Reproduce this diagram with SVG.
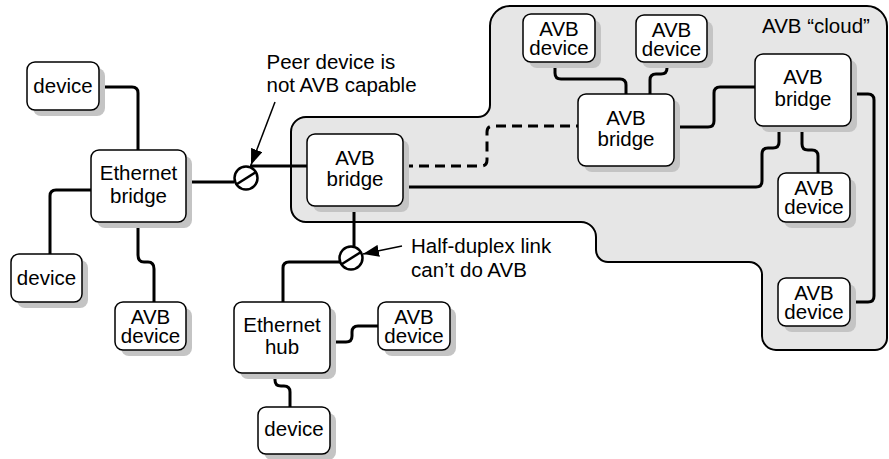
<svg xmlns="http://www.w3.org/2000/svg" width="889" height="459" viewBox="0 0 889 459">
<defs>
<style>
.t{font-family:"Liberation Sans",Arial,Helvetica,sans-serif;font-size:20.5px;fill:#000}
.c{text-anchor:middle}
.box{fill:#fff;stroke:#000;stroke-width:1.5}
.sh{fill:#c4c4c4;stroke:none}
.ln{fill:none;stroke:#000;stroke-width:3}
.dash{stroke-dasharray:10 6}
.cir{fill:#fff;stroke:#000;stroke-width:2.5}
.arr{fill:none;stroke:#000;stroke-width:1.5}
</style>
<marker id="ah" markerWidth="16" markerHeight="12" viewBox="0 0 16 12" refX="16" refY="6" orient="auto" markerUnits="userSpaceOnUse">
<path d="M0,0 L16,6 L0,12 Z" fill="#000"/>
</marker>
</defs>
<rect width="889" height="459" fill="#fff"/>

<g id="cloud">
<path d="M510,6 H867 A20 20 0 0 1 887,26 V338 A12 12 0 0 1 875,350 H776 A14 14 0 0 1 762,336 V276 A13 13 0 0 0 749,262 H608 A12 12 0 0 1 596,250 V237 A15 15 0 0 0 581,222 H306 A15 15 0 0 1 291,207 V132 A15 15 0 0 1 306,117 H478 A12 12 0 0 0 490,105 V26 A20 20 0 0 1 510,6 Z" fill="#e6e6e6" stroke="#000" stroke-width="2"/>
<text class="t" x="762" y="33">AVB “cloud”</text>
</g>

<g id="connectors">
<path class="ln" d="M99,87 H132 Q138,87 138,93 V150"/>
<path class="ln" d="M91,190 H56 Q50,190 50,196 V254"/>
<path class="ln" d="M138,222 V255 Q138,262 144,262 H148 Q154,262 154,269 V302"/>
<path class="ln" d="M186,182 H234"/>
<path class="ln" d="M250,166 H307"/>
<path class="ln" d="M354,206 V246"/>
<path class="ln" d="M341,262 H289 Q283,262 283,268 V302"/>
<path class="ln" d="M330,342 H346 Q352,342 352,336 V332 Q352,326 358,326 H378"/>
<path class="ln" d="M275,373 V380 Q275,386 281,386 H284 Q290,386 290,392 V407"/>
<path class="ln dash" d="M403,166 H481 Q487,166 487,160 V132 Q487,126 493,126 H578"/>
<path class="ln" d="M403,187 H756 Q762,187 762,181 V154 Q762,148 768,148 H773 Q779,148 779,142 V126"/>
<path class="ln" d="M555,62 V73 Q555,79 561,79 H620 Q626,79 626,85 V94"/>
<path class="ln" d="M667,62 V68 Q667,74 661,74 H656 Q650,74 650,80 V94"/>
<path class="ln" d="M674,127 H708 Q714,127 714,121 V93 Q714,87 720,87 H755"/>
<path class="ln" d="M802,126 V144 Q802,150 808,150 H812 Q818,150 818,156 V173"/>
<path class="ln" d="M851,94 H868 Q874,94 874,100 V296 Q874,302 868,302 H851"/>
</g>

<g id="peer-mismatch">
<circle class="cir" cx="246" cy="178" r="11.5"/>
<line x1="237" y1="184" x2="256" y2="172" stroke="#000" stroke-width="2.5"/>
<line class="arr" x1="275" y1="102" x2="251" y2="165" marker-end="url(#ah)"/>
<text class="t" x="266.5" y="69">Peer device is</text>
<text class="t" x="266.5" y="92">not AVB capable</text>
</g>

<g id="half-duplex">
<circle class="cir" cx="351" cy="258" r="11.5"/>
<line x1="342" y1="264" x2="361" y2="252" stroke="#000" stroke-width="2.5"/>
<line class="arr" x1="402" y1="246" x2="363" y2="254" marker-end="url(#ah)"/>
<text class="t" x="411" y="253">Half-duplex link</text>
<text class="t" x="411" y="276.5">can’t do AVB</text>
</g>

<g id="device-1">
<rect class="sh" x="33" y="68" width="72" height="48" rx="8"/>
<rect class="box" x="27" y="62" width="72" height="48" rx="8"/>
<text class="t c" x="63" y="93">device</text>
</g>
<g id="ethernet-bridge">
<rect class="sh" x="97" y="156" width="95" height="72" rx="8"/>
<rect class="box" x="91" y="150" width="95" height="72" rx="8"/>
<text class="t c" x="138.5" y="180">Ethernet</text>
<text class="t c" x="138.5" y="202.5">bridge</text>
</g>
<g id="device-2">
<rect class="sh" x="17" y="260" width="71" height="48" rx="8"/>
<rect class="box" x="11" y="254" width="71" height="48" rx="8"/>
<text class="t c" x="46.5" y="285">device</text>
</g>
<g id="avb-device-1">
<rect class="sh" x="121" y="308" width="71" height="48" rx="8"/>
<rect class="box" x="115" y="302" width="71" height="48" rx="8"/>
<text class="t c" x="150.5" y="323.5">AVB</text>
<text class="t c" x="150.5" y="343">device</text>
</g>
<g id="avb-bridge-1">
<rect class="sh" x="313" y="140" width="96" height="72" rx="8"/>
<rect class="box" x="307" y="134" width="96" height="72" rx="8"/>
<text class="t c" x="355" y="165">AVB</text>
<text class="t c" x="355" y="186">bridge</text>
</g>
<g id="ethernet-hub">
<rect class="sh" x="240" y="308" width="96" height="71" rx="8"/>
<rect class="box" x="234" y="302" width="96" height="71" rx="8"/>
<text class="t c" x="282" y="332">Ethernet</text>
<text class="t c" x="282" y="353.5">hub</text>
</g>
<g id="avb-device-2">
<rect class="sh" x="384" y="308" width="72" height="48" rx="8"/>
<rect class="box" x="378" y="302" width="72" height="48" rx="8"/>
<text class="t c" x="414" y="323.5">AVB</text>
<text class="t c" x="414" y="343">device</text>
</g>
<g id="device-3">
<rect class="sh" x="264" y="413" width="72" height="47" rx="8"/>
<rect class="box" x="258" y="407" width="72" height="47" rx="8"/>
<text class="t c" x="294" y="436">device</text>
</g>
<g id="avb-device-3">
<rect class="sh" x="529" y="20" width="72" height="48" rx="8"/>
<rect class="box" x="523" y="14" width="72" height="48" rx="8"/>
<text class="t c" x="559" y="36">AVB</text>
<text class="t c" x="559" y="55">device</text>
</g>
<g id="avb-device-4">
<rect class="sh" x="642" y="21" width="71" height="47" rx="8"/>
<rect class="box" x="636" y="15" width="71" height="47" rx="8"/>
<text class="t c" x="671.5" y="37">AVB</text>
<text class="t c" x="671.5" y="55.5">device</text>
</g>
<g id="avb-bridge-2">
<rect class="sh" x="584" y="100" width="96" height="72" rx="8"/>
<rect class="box" x="578" y="94" width="96" height="72" rx="8"/>
<text class="t c" x="626" y="124.5">AVB</text>
<text class="t c" x="626" y="146">bridge</text>
</g>
<g id="avb-bridge-3">
<rect class="sh" x="761" y="60" width="96" height="72" rx="8"/>
<rect class="box" x="755" y="54" width="96" height="72" rx="8"/>
<text class="t c" x="803" y="83.5">AVB</text>
<text class="t c" x="803" y="106">bridge</text>
</g>
<g id="avb-device-5">
<rect class="sh" x="784" y="179" width="72" height="49" rx="8"/>
<rect class="box" x="778" y="173" width="72" height="49" rx="8"/>
<text class="t c" x="814" y="195">AVB</text>
<text class="t c" x="814" y="214">device</text>
</g>
<g id="avb-device-6">
<rect class="sh" x="784" y="284" width="72" height="48" rx="8"/>
<rect class="box" x="778" y="278" width="72" height="48" rx="8"/>
<text class="t c" x="814" y="299.5">AVB</text>
<text class="t c" x="814" y="319">device</text>
</g>
</svg>
